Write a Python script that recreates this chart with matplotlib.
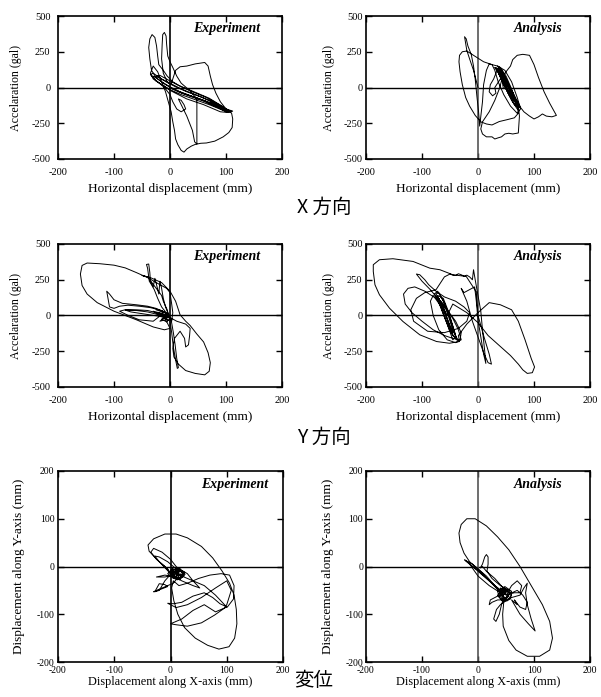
import numpy as np
import matplotlib
matplotlib.use("Agg")
import matplotlib.pyplot as plt

plt.rcParams["axes.unicode_minus"] = False

# ---------------- data ----------------
# X direction, experiment: (horizontal displacement mm, acceleration gal)
x_exp = [(0,0),(15,-30),(35,-60),(60,-95),(85,-140),(100,-170),(108,-172),(112,-165),
         (100,-150),(75,-110),(50,-75),(25,-45),(5,-10),(-10,25),(-25,70),(-33,120),(-36,200),
         (-38,280),(-36,340),(-32,370),(-27,350),(-24,290),(-22,220),(-20,160),
         (-12,120),(-5,80),(5,40),(20,5),(40,-30),(65,-70),(90,-125),(105,-160),(110,-168),
         (95,-160),(70,-120),(45,-85),(20,-50),(0,-15),(-15,20),(-30,60),(-35,100),(-30,150),
         (-22,110),(-15,40),(-8,-30),(-3,-100),(2,-170),(5,-240),(8,-300),(10,-360),(14,-400),
         (20,-440),(25,-452),(30,-430),(38,-410),(45,-398),(55,-390),(65,-388),(80,-375),
         (95,-345),(105,-315),(111,-280),(112,-220),(110,-180),(100,-150),(90,-100),(82,-40),
         (76,20),(72,80),(68,150),(62,175),(45,165),(30,150),(18,145),(10,120),(5,60),(2,20),
         (-5,40),(-12,100),(-15,200),(-14,300),(-13,370),(-10,385),(-7,360),(-6,300),(-4,220),
         (0,180),(5,140),(12,80),(20,30),(35,-20),(48,-80),(48,-150),(48,-250),(48,-330),
         (48,-395),(44,-380),(40,-300),(30,-200),(20,-120),(15,-80),(20,-90),(25,-120),
         (28,-150),(20,-170),(12,-150),(5,-100),(0,-50),(-10,0),(-25,50),(-35,90),(-30,100),
         (-15,60),(0,30),(20,-10),(45,-50),(70,-90),(95,-150),(105,-175),(90,-170),(60,-120),
         (30,-80),(10,-40),(0,-20),(-10,10),(-25,45),(-32,80),(-20,70),(-5,35),(10,5),
         (30,-30),(55,-65),(80,-110),(100,-155),(85,-135),(60,-90),(35,-55),(15,-25),(0,5),
         (-15,40),(-28,75),(-18,85),(-2,50),(15,15),(40,-25),(70,-75),(95,-135),(75,-115),
         (45,-70),(20,-35),(0,0)]

# X direction, analysis
x_ana = [(0,0),(-8,120),(-15,200),(-20,260),(-24,355),(-21,340),(-18,290),(-12,230),(-8,150),
         (-5,60),(-2,-60),(1,-170),(3,-270),(5,-200),(8,-100),(10,20),(15,120),(20,165),
         (35,150),(48,120),(60,40),(70,-70),(76,-150),(70,-180),(58,-130),(46,-50),(36,40),
         (30,120),(25,160),(10,180),(-10,230),(-20,255),(-28,250),(-33,225),(-34,180),
         (-32,110),(-28,20),(-22,-70),(-15,-130),(-5,-195),(5,-240),(15,-255),(25,-262),
         (38,-238),(52,-225),(65,-212),(72,-180),(70,-130),(62,-60),(52,30),(42,110),(35,150),
         (40,140),(50,80),(60,-10),(68,-100),(73,-140),(65,-120),(55,-50),(45,30),(37,100),
         (32,140),(45,100),(55,20),(65,-70),(72,-130),(74,-200),(73,-260),(72,-318),(62,-325),
         (55,-320),(48,-325),(42,-345),(36,-352),(30,-360),(25,-345),(15,-345),(8,-325),
         (5,-290),(8,-240),(20,-170),(30,-90),(38,-10),(43,60),(50,110),(58,150),(62,195),
         (70,225),(80,232),(92,225),(100,160),(108,70),(118,-30),(128,-110),(135,-160),
         (140,-195),(132,-205),(122,-200),(115,-185),(108,-205),(100,-220),(92,-200),
         (82,-170),(72,-120),(62,-40),(52,40),(42,110),(38,135),(45,95),(58,0),(68,-80),
         (75,-130),(70,-150),(60,-90),(50,-10),(40,70),(34,120),(28,60),(22,20),(20,-30),
         (26,-58),(32,-40),(30,0),(40,60),(50,30),(62,-50),(70,-110),(64,-90),(54,-20),
         (44,50),(36,110),(30,140),(45,60),(58,-30),(66,-90),(70,-125),(60,-70),(48,10),
         (40,90),(44,80),(56,0),(64,-60),(55,-30),(45,40),(38,110),(34,135),(42,120),
         (50,60),(60,-20),(68,-95),(72,-140),(64,-110),(54,-40),(46,20),(38,90),(36,120),
         (46,90),(56,10),(66,-70),(70,-115),(62,-80),(52,-10),(44,60),(40,105),(48,70),
         (58,-10),(66,-80),(58,-60),(50,0),(42,75),(45,0)]

# Y direction, experiment
y_exp = [(0,0),(-8,20),(-20,40),(-35,55),(-55,65),(-75,72),(-90,65),(-100,50),(-108,60),
         (-113,170),(-108,150),(-100,110),(-85,85),(-60,75),(-40,65),(-25,50),(-12,28),
         (-20,-10),(-30,-40),(-55,-30),(-77,5),(-90,30),(-80,40),(-60,35),(-40,25),(-25,10),
         (-10,-10),(-5,-50),(0,-90),(-10,-100),(-30,-80),(-60,-30),(-100,30),(-130,90),
         (-148,150),(-157,210),(-160,290),(-157,350),(-148,367),(-125,362),(-100,352),
         (-80,333),(-60,300),(-40,265),(-20,220),(-6,190),(0,160),(3,80),(5,20),(3,-40),
         (-5,10),(-15,60),(-22,120),(-28,180),(-33,215),(-37,240),(-40,330),(-42,357),
         (-38,360),(-36,300),(-35,240),(-30,200),(-27,260),(-24,215),(-20,150),(-18,240),
         (-15,190),(-12,120),(-8,60),(-4,20),(2,-30),(6,-120),(9,-200),(12,-300),(15,-365),
         (13,-370),(10,-310),(6,-220),(3,-120),(0,-40),(-5,40),(-12,100),(-15,140),(-40,270),
         (-50,280),(-35,265),(-15,230),(0,170),(10,100),(18,5),(28,-40),(36,-70),(48,-130),
         (60,-185),(68,-260),(72,-330),(70,-390),(62,-415),(45,-405),(28,-385),(15,-340),
         (7,-290),(5,-230),(8,-160),(18,-110),(26,-160),(28,-220),(33,-205),(35,-140),
         (36,-90),(28,-60),(12,-40),(-2,-10),(-20,15),(-40,35),(-60,40),(-80,38),(-70,25),
         (-45,10),(-20,-5),(-8,-15),(0,-5),(-10,20),(-25,40),(-15,35),(-5,10),(-12,-20),
         (-18,-40),(-8,-30),(-2,-5),(-15,15),(-30,30),(-20,5),(-10,-15),(-3,-35),(-12,-10),
         (-22,20),(-8,5),(0,-20),(-6,-45),(-15,-25),(0,0)]

# Y direction, analysis
y_ana = [(-55,0),(-65,80),(-75,150),(-70,160),(-60,90),(-48,-40),(-40,-150),(-45,-170),
         (-55,-60),(-65,60),(-72,140),(-62,120),(-52,20),(-42,-110),(-38,-170),(-50,-110),
         (-60,-10),(-70,100),(-78,150),(-72,170),(-62,100),(-50,-20),(-40,-140),(-35,-180),
         (-45,-140),(-58,-30),(-68,70),(-74,130),(-64,80),(-54,-30),(-45,-130),(-50,-80),
         (-60,30),(-66,100),(-58,60),(-50,-40),(-44,-120),(-52,-60),(-62,50),(-70,120),
         (-60,30),(-80,140),(-85,100),(-80,0),(-70,-100),(-55,-170),(-40,-190),(-30,-170),
         (-35,-100),(-45,-20),(-60,60),(-75,120),(-95,170),(-113,200),(-125,190),(-133,150),
         (-130,80),(-118,20),(-100,-40),(-80,-100),(-60,-140),(-45,-160),(-32,-170),
         (-30,-120),(-40,-40),(-55,40),(-70,110),(-85,180),(-100,240),(-110,290),(-104,285),
         (-95,250),(-88,215),(-75,170),(-60,130),(-40,100),(-25,60),(-15,20),(-20,-40),
         (-35,-90),(-60,-120),(-90,-110),(-115,-40),(-120,40),(-110,120),(-95,160),(-75,180),
         (-60,270),(-50,290),(-45,282),(-40,280),(-35,292),(-30,285),(-25,275),(-20,282),
         (-15,270),(-10,250),(-8,320),(-5,250),(0,140),(5,30),(8,-100),(12,-250),(14,-335),
         (10,-270),(5,-150),(0,-30),(-3,100),(-6,200),(-25,160),(-30,190),(-20,100),
         (-10,-40),(0,-150),(10,-260),(18,-330),(24,-340),(20,-270),(10,-140),(0,0),
         (-3,165),(-21,273),(-45,285),(-68,320),(-86,331),(-116,378),(-152,397),(-176,390),
         (-187,355),(-187,308),(-184,215),(-176,145),(-158,51),(-134,-42),(-104,-135),
         (-74,-182),(-51,-194),(-33,-182),(-35,-140),(-20,-60),(0,20),(20,90),(40,75),
         (60,40),(72,-40),(84,-170),(95,-300),(101,-360),(97,-400),(88,-405),(80,-380),
         (72,-340),(58,-280),(38,-210),(18,-140),(0,-50),(-20,20),(-45,80),(-55,0)]

# Displacement orbit, experiment: (X mm, Y mm)
d_exp = [(10,-15),(0,-8),(5,-2),(18,-5),(22,-15),(15,-25),(3,-22),(-2,-12),(8,-6),(20,-10),
         (24,-20),(12,-28),(2,-18),(10,-8),(25,-12),(18,-24),(5,-25),(-5,-15),(5,-5),(15,-12),
         (10,-20),(0,-20),(-10,-18),(-25,-22),(-10,-22),(5,-18),(20,-8),(30,-15),(40,-30),
         (52,-45),(40,-40),(20,-30),(5,-20),(-10,0),(-25,15),(-35,30),(-30,38),(-15,30),(0,15),
         (10,0),(20,-10),(10,-5),(-5,10),(-20,20),(-28,22),(-20,10),(-5,-5),(0,-15),(-20,10),
         (-38,32),(-40,45),(-30,58),(-10,68),(10,68),(30,60),(55,42),(75,18),(92,-10),
         (105,-35),(113,-60),(117,-90),(118,-120),(114,-150),(104,-168),(86,-173),(66,-165),
         (44,-150),(25,-128),(13,-100),(6,-72),(2,-45),(5,-30),(15,-40),(30,-35),(50,-25),
         (70,-18),(90,-15),(105,-18),(113,-40),(112,-68),(101,-85),(88,-78),(75,-65),(60,-55),
         (40,-62),(20,-75),(5,-78),(-5,-77),(10,-86),(30,-80),(55,-65),(80,-45),(100,-30),
         (108,-50),(100,-80),(95,-88),(78,-102),(55,-118),(30,-125),(10,-122),(0,-120),
         (20,-110),(40,-92),(60,-80),(80,-95),(100,-85),(80,-60),(60,-40),(40,-30),(20,-20),
         (5,-10),(-10,-30),(-20,-50),(-28,-53),(-20,-36),(-10,-38),(-5,-42),(-18,-48),
         (-30,-53),(-15,-45),(5,-35),(15,-20),(10,-15),(2,-10),(12,-4),(22,-10),(20,-22),
         (8,-26),(0,-16),(14,-8),(26,-16),(16,-28),(4,-20),(12,-12),(0,-12),(8,-22),(20,-16),
         (10,-15)]

# Displacement orbit, analysis
d_ana = [(45,-55),(40,-45),(50,-50),(55,-62),(48,-70),(40,-62),(42,-50),(55,-48),(60,-60),
         (52,-72),(38,-65),(35,-52),(48,-42),(60,-52),(58,-68),(45,-75),(35,-60),(44,-48),
         (58,-55),(50,-66),(38,-58),(46,-44),(56,-56),(48,-68),(40,-56),(52,-50),(44,-62),
         (30,-40),(15,-20),(0,-5),(-10,5),(-22,12),(-15,5),(0,-8),(20,-30),
         (40,-50),(55,-62),(40,-55),(20,-40),(0,-20),(-18,10),(-24,14),(-10,0),(10,-20),
         (30,-40),(50,-58),(45,-45),(30,-25),(15,-10),(8,0),(4,-3),(8,5),(12,20),(15,25),
         (18,20),(18,5),(16,-10),(25,-25),(40,-40),(55,-50),(60,-40),(70,-30),(78,-40),
         (75,-55),(65,-55),(55,-58),(70,-50),(80,-60),(88,-75),(85,-90),(75,-85),(65,-70),
         (70,-80),(60,-70),(75,-100),(90,-120),(102,-135),(95,-110),(88,-80),(85,-55),
         (88,-35),(82,-45),(75,-60),(60,-65),(50,-70),(40,-80),(33,-90),(28,-110),(32,-115),
         (38,-100),(42,-80),(45,-70),(35,-70),(25,-75),(20,-80),(22,-70),(35,-62),(45,-60),
         (20,-30),(0,-5),(-15,10),(-25,28),(-32,50),(-34,70),(-30,88),(-20,100),(-5,100),
         (15,85),(35,62),(55,35),(75,0),(95,-40),(115,-80),(128,-115),(133,-150),(128,-175),
         (110,-188),(88,-188),(68,-175),(55,-155),(45,-125),(44,-100),(46,-75),(45,-60)]

xticks_h = [-200, -100, 0, 100, 200]
yticks_acc = [-500, -250, 0, 250, 500]
yticks_disp = [-200, -100, 0, 100, 200]

# ---------------- figure ----------------
W, H = 601, 697
fig = plt.figure(figsize=(W / 100, H / 100), dpi=100)
SERIF = ["Liberation Serif", "DejaVu Serif"]
CJK = ["Noto Sans CJK JP", "DejaVu Sans"]


def px_axes(x0, y0, x1, y1):
    return fig.add_axes([x0 / W, 1 - y1 / H, (x1 - x0) / W, (y1 - y0) / H])


def style(ax, data, yticks, ylim, xlabel, ylabel, title, title_x, title_y, cross_col,
          xl_size, yl_size, tl_size, xpad, ypad, xlab_y, ylab_x):
    arr = np.array(data, dtype=float)
    ax.plot(arr[:, 0], arr[:, 1], color="black", lw=0.7, zorder=3)
    ax.axhline(0, color="black", lw=1.0, zorder=2)
    ax.axvline(0, color=cross_col, lw=1.2, zorder=2)
    ax.set_xlim(-200, 200)
    ax.set_ylim(*ylim)
    ax.set_xticks(xticks_h)
    ax.set_yticks(yticks)
    ax.tick_params(direction="in", length=4, width=1.0, top=True, right=True,
                   labelsize=tl_size)
    ax.tick_params(axis="x", pad=xpad)
    ax.tick_params(axis="y", pad=ypad)
    for lab in ax.get_xticklabels() + ax.get_yticklabels():
        lab.set_fontfamily(SERIF)
    for s in ax.spines.values():
        s.set_linewidth(1.2)
    ax.set_xlabel(xlabel, fontsize=xl_size, family=SERIF)
    ax.set_ylabel(ylabel, fontsize=yl_size, family=SERIF)
    ax.xaxis.set_label_coords(0.5, xlab_y)
    ax.yaxis.set_label_coords(ylab_x, 0.5)
    ax.text(title_x, title_y, title, transform=ax.transAxes, ha="right", va="center",
            fontsize=10, family=SERIF, fontweight="bold", fontstyle="italic")


L0, L1, R0, R1 = 58, 282, 366, 590
hx = "Horizontal displacement (mm)"
ya = "Accelaration (gal)"

ax = px_axes(L0, 16, L1, 159)
style(ax, x_exp, yticks_acc, (-500, 500), hx, ya, "Experiment", 0.905, 0.91, "black",
      9.6, 8.6, 7.5, 6.5, 5.5, -0.165, -0.16)
ax = px_axes(R0, 16, R1, 159)
style(ax, x_ana, yticks_acc, (-500, 500), hx, ya, "Analysis", 0.875, 0.91, "#555555",
      9.6, 8.6, 7.5, 6.5, 2.5, -0.165, -0.14)
ax = px_axes(L0, 244, L1, 387)
style(ax, y_exp, yticks_acc, (-500, 500), hx, ya, "Experiment", 0.905, 0.91, "black",
      9.6, 8.6, 7.5, 6.5, 5.5, -0.165, -0.16)
ax = px_axes(R0, 244, R1, 387)
style(ax, y_ana, yticks_acc, (-500, 500), hx, ya, "Analysis", 0.875, 0.91, "#555555",
      9.6, 8.6, 7.5, 6.5, 2.5, -0.165, -0.14)

dx = "Displacement along X-axis (mm)"
dy = "Displacement along Y-axis (mm)"
ax = px_axes(L0, 471, L1 + 1, 662)
style(ax, d_exp, yticks_disp, (-200, 200), dx, dy, "Experiment", 0.935, 0.927, "black",
      8.8, 9.5, 7.0, 3.2, 2.5, -0.072, -0.145)
ax = px_axes(R0, 471, R1, 662)
style(ax, d_ana, yticks_disp, (-200, 200), dx, dy, "Analysis", 0.875, 0.927, "#555555",
      8.8, 9.5, 7.0, 3.2, 2.0, -0.072, -0.145)

fig.text(297 / W, 1 - 207 / H, "X 方向", family=CJK, fontsize=14, ha="left", va="center")
fig.text(297 / W, 1 - 437 / H, "Y 方向", family=CJK, fontsize=14, ha="left", va="center")
fig.text(294 / W, 1 - 680 / H, "変位", family=CJK, fontsize=14, ha="left", va="center")

fig.savefig("out.png", dpi=100, facecolor="white")
